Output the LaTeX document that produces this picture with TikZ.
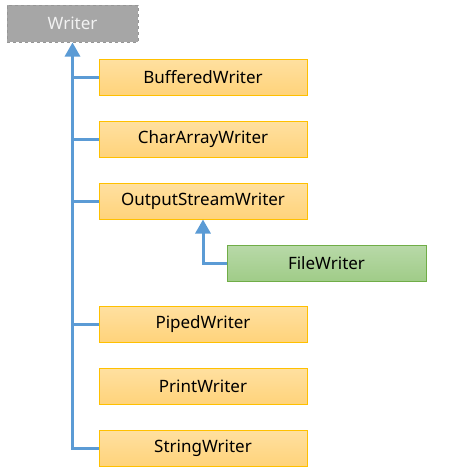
\documentclass[tikz,border=0pt]{standalone}
\usepackage{fontspec}
\setmainfont{Noto Sans}
\usetikzlibrary{arrows.meta}
\definecolor{lineblue}{RGB}{91,155,213}
\definecolor{orgtop}{RGB}{255,224,160}
\definecolor{orgbot}{RGB}{255,211,123}
\definecolor{orgborder}{RGB}{255,192,0}
\definecolor{grntop}{RGB}{184,217,168}
\definecolor{grnbot}{RGB}{160,204,136}
\definecolor{grnborder}{RGB}{112,173,71}
\definecolor{basefill}{RGB}{166,166,166}
\definecolor{baseborder}{RGB}{150,150,150}
\tikzset{
  every node/.style={font=\fontsize{17}{20}\selectfont, inner sep=0pt},
  basebox/.style={draw=baseborder, dashed, line width=1pt, fill=basefill, text=white!95!black, minimum width=131pt, minimum height=37pt},
  classbox/.style={draw=orgborder, line width=1pt, top color=orgtop, bottom color=orgbot, minimum width=208pt, minimum height=36pt},
  subbox/.style={draw=grnborder, line width=1pt, top color=grntop, bottom color=grnbot, minimum width=199pt, minimum height=36pt},
  link/.style={draw=lineblue, line width=3pt},
  inherit/.style={link, -{Triangle[length=14pt,width=15pt]}},
}
\begin{document}
\begin{tikzpicture}[x=1pt,y=-1pt]
\useasboundingbox (0,0) rectangle (469,475);
\node[basebox] (writer) at (72.5,23.5) {Writer};
\node[classbox] (bw) at (203,77) {BufferedWriter};
\node[classbox] (caw) at (203,139) {CharArrayWriter};
\node[classbox] (osw) at (203,201) {OutputStreamWriter};
\node[subbox] (fw) at (326.5,263) {FileWriter};
\node[classbox] (pw) at (203,324) {PipedWriter};
\node[classbox] (prw) at (203,386) {PrintWriter};
\node[classbox] (sw) at (203,448) {StringWriter};
\draw[inherit] (sw.west) -| (writer.south);
\draw[link] (bw.west) -- (bw.west -| writer.south);
\draw[link] (caw.west) -- (caw.west -| writer.south);
\draw[link] (osw.west) -- (osw.west -| writer.south);
\draw[link] (pw.west) -- (pw.west -| writer.south);
\draw[inherit] (fw.west) -| (osw.south);
\end{tikzpicture}
\end{document}
